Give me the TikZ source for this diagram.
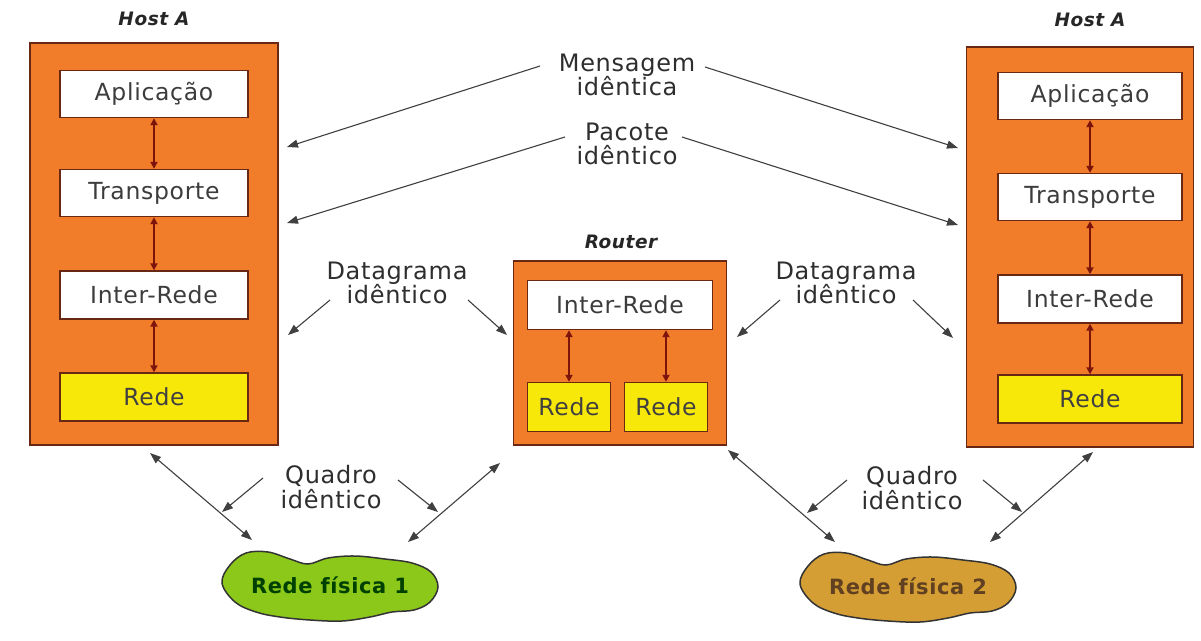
\documentclass[tikz,border=0pt]{standalone}
\usepackage{fontspec}
\setmainfont[LetterSpace=3]{DejaVu Sans}
\usetikzlibrary{arrows.meta,shapes.geometric}
\definecolor{orangeF}{RGB}{241,124,42}
\definecolor{borderC}{RGB}{105,40,20}
\definecolor{yellowF}{RGB}{248,232,10}
\definecolor{greenF}{RGB}{140,200,25}
\definecolor{goldF}{RGB}{212,158,52}
\definecolor{arrowR}{RGB}{125,20,12}
\definecolor{txtG}{RGB}{60,60,60}
\newcommand\blobshape{plot[smooth cycle,tension=0.6] coordinates {
  (-108,-2) (-100,-20) (-84,-32) (-62,-33) (-40,-26) (-22,-21) (-2,-27) (25,-29) (55,-26)
  (82,-22) (101,-13) (108,2) (100,17) (84,25) (62,27) (40,32) (12,36) (-20,35) (-50,32)
  (-74,27) (-95,17)}}
\begin{document}
\begin{tikzpicture}[x=1pt,y=-1pt,
  hostbox/.style={draw=borderC,line width=1.6pt,fill=orangeF,inner sep=0pt},
  layer/.style={draw=borderC,line width=1.4pt,fill=white,inner sep=0pt,text=txtG,
    font=\fontsize{23.5}{25}\selectfont},
  redebox/.style={layer,fill=yellowF,text=black!75},
  title/.style={font=\bfseries\itshape\fontsize{18.5}{20}\selectfont,text=black!85},
  lbl/.style={align=center,text=black!82,font=\fontsize{24}{24.5}\selectfont,inner sep=0pt},
  ptr/.style={-{Triangle[length=11pt,width=8pt]},line width=1.1pt,draw=black!75},
  dbl/.style={{Triangle[length=11pt,width=8pt]}-{Triangle[length=11pt,width=8pt]},line width=1.1pt,draw=black!75},
  inarr/.style={{Triangle[length=7pt,width=7pt]}-{Triangle[length=7pt,width=7pt]},line width=2pt,draw=arrowR},
  blob/.style={draw=black!80,line width=1.5pt},
  nettext/.style={ellipse,minimum width=214pt,minimum height=70pt,inner sep=0pt,
    font=\bfseries\fontsize{21}{22}\selectfont}
]
\useasboundingbox[fill=white] (0,0) rectangle (1201,640);

% ---- Left host
\node[hostbox,minimum width=248pt,minimum height=402pt] (hostL) at (154,244) {};
\node[title] (tL) at (154,19) {Host A};
\node[layer,minimum width=188pt,minimum height=47pt] (apL) at (154,94) {Aplicação};
\node[layer,minimum width=188pt,minimum height=47pt] (trL) at (154,193) {Transporte};
\node[layer,minimum width=188pt,minimum height=48pt] (irL) at (154,295) {Inter-Rede};
\node[redebox,minimum width=188pt,minimum height=48pt] (reL) at (154,397) {Rede};
\draw[inarr] (apL) -- (trL);
\draw[inarr] (trL) -- (irL);
\draw[inarr] (irL) -- (reL);

% ---- Right host
\node[hostbox,minimum width=227pt,minimum height=400pt] (hostR) at (1080,247) {};
\node[title] (tR) at (1090,20) {Host A};
\node[layer,minimum width=184pt,minimum height=47pt] (apR) at (1090,96) {Aplicação};
\node[layer,minimum width=184pt,minimum height=47pt] (trR) at (1090,197) {Transporte};
\node[layer,minimum width=184pt,minimum height=48pt] (irR) at (1090,299) {Inter-Rede};
\node[redebox,minimum width=184pt,minimum height=48pt] (reR) at (1090,399) {Rede};
\draw[inarr] (apR) -- (trR);
\draw[inarr] (trR) -- (irR);
\draw[inarr] (irR) -- (reR);

% ---- Router
\node[hostbox,minimum width=213pt,minimum height=184pt] (rt) at (620,353) {};
\node[title] (tRt) at (621,242) {Router};
\node[layer,minimum width=185pt,minimum height=49pt] (irRt) at (620,305) {Inter-Rede};
\node[redebox,minimum width=83pt,minimum height=49pt] (re1) at (569,407) {Rede};
\node[redebox,minimum width=83pt,minimum height=49pt] (re2) at (666,407) {Rede};
\draw[inarr] (irRt.south -| re1) -- (re1);
\draw[inarr] (irRt.south -| re2) -- (re2);

% ---- Clouds
\coordinate (c1) at (330,585);
\coordinate (c2) at (908,586);
\draw[blob,fill=greenF,shift={(c1)}] \blobshape;
\draw[blob,fill=goldF,shift={(c2)}] \blobshape;
\node[nettext,text=green!25!black] (n1) at (c1) {Rede física 1};
\node[nettext,text=brown!50!black] (n2) at (c2) {Rede física 2};

% ---- Labels
\node[lbl] (mens) at (627,75) {Mensagem\\idêntica};
\node[lbl] (pac) at (627,144) {Pacote\\idêntico};
\node[lbl] (dgL) at (397,283) {Datagrama\\idêntico};
\node[lbl] (dgR) at (846,283) {Datagrama\\idêntico};
\node[lbl] (qdL) at (331,487) {Quadro\\idêntico};
\node[lbl] (qdR) at (912,488) {Quadro\\idêntico};

% ---- endpoints
\coordinate (mLs) at (540,66);  \coordinate (mLe) at (287,147);
\coordinate (mRs) at (705,67);  \coordinate (mRe) at (958,148);
\coordinate (pLs) at (565,137); \coordinate (pLe) at (287,223);
\coordinate (pRs) at (682,137); \coordinate (pRe) at (958,225);
\coordinate (dLa) at (330,300); \coordinate (dLae) at (288,335);
\coordinate (dLb) at (468,300); \coordinate (dLbe) at (507,335);
\coordinate (dRa) at (780,300); \coordinate (dRae) at (737,337);
\coordinate (dRb) at (913,300); \coordinate (dRbe) at (953,338);
\coordinate (qLa) at (263,478); \coordinate (qLae) at (222,512);
\coordinate (qLb) at (398,480); \coordinate (qLbe) at (438,512);
\coordinate (qRa) at (847,480); \coordinate (qRae) at (807,513);
\coordinate (qRb) at (983,480); \coordinate (qRbe) at (1022,512);
\coordinate (hL1) at (150,453); \coordinate (hL2) at (252,540);
\coordinate (r1) at (500,463);  \coordinate (r2) at (408,542);
\coordinate (r3) at (728,450);  \coordinate (r4) at (835,542);
\coordinate (hR1) at (1093,452);\coordinate (hR2) at (990,542);

% ---- pointers
\draw[ptr] (mLs) -- (mLe);
\draw[ptr] (mRs) -- (mRe);
\draw[ptr] (pLs) -- (pLe);
\draw[ptr] (pRs) -- (pRe);
\draw[ptr] (dLa) -- (dLae);
\draw[ptr] (dLb) -- (dLbe);
\draw[ptr] (dRa) -- (dRae);
\draw[ptr] (dRb) -- (dRbe);
\draw[ptr] (qLa) -- (qLae);
\draw[ptr] (qLb) -- (qLbe);
\draw[ptr] (qRa) -- (qRae);
\draw[ptr] (qRb) -- (qRbe);
\draw[dbl] (hL1) -- (hL2);
\draw[dbl] (r1) -- (r2);
\draw[dbl] (r3) -- (r4);
\draw[dbl] (hR1) -- (hR2);
\end{tikzpicture}
\end{document}
